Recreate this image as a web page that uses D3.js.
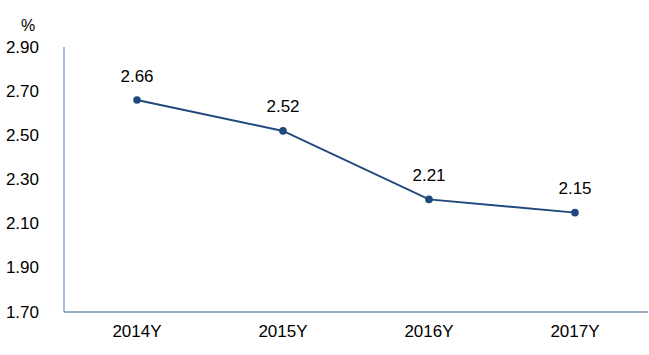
<!DOCTYPE html>
<html>
<head>
<meta charset="utf-8">
<script src="https://cdn.jsdelivr.net/npm/d3@7"></script>
<style>
  body { margin: 0; background: #fff; }
  svg { display: block; }
</style>
</head>
<body>
<div id="chart"></div>
<script>
// chart data
const categories = ["2014Y", "2015Y", "2016Y", "2017Y"];
const values = [2.66, 2.52, 2.21, 2.15];
const yTicks = [1.70, 1.90, 2.10, 2.30, 2.50, 2.70, 2.90];

const width = 649, height = 355;
const margin = { top: 47, right: 1, bottom: 43, left: 64 };
const font = "Liberation Sans, Arial, sans-serif";

const svg = d3.select("#chart").append("svg")
    .attr("width", width)
    .attr("height", height);

const x = d3.scaleBand()
    .domain(categories)
    .range([margin.left, width - margin.right]);

const y = d3.scaleLinear()
    .domain([1.70, 2.90])
    .range([height - margin.bottom, margin.top]);

// y axis line + labels
svg.append("line")
    .attr("x1", margin.left).attr("x2", margin.left)
    .attr("y1", y(2.90)).attr("y2", y(1.70))
    .style("stroke", "#4a7ebb")
    .style("stroke-width", 1);

svg.selectAll(".ytick")
    .data(yTicks)
    .enter().append("text")
    .attr("x", 39)
    .attr("y", d => y(d))
    .attr("text-anchor", "end")
    .attr("dominant-baseline", "central")
    .style("font-family", font)
    .style("font-size", "17px")
    .style("fill", "#000")
    .text(d => d.toFixed(2));

svg.append("text")
    .attr("x", 28)
    .attr("y", 25)
    .attr("text-anchor", "middle")
    .attr("dominant-baseline", "central")
    .style("font-family", font)
    .style("font-size", "16px")
    .text("%");

// x axis line + labels
svg.append("line")
    .attr("x1", margin.left).attr("x2", width - margin.right)
    .attr("y1", y(1.70)).attr("y2", y(1.70))
    .style("stroke", "#2f5a8f")
    .style("stroke-width", 1);

svg.selectAll(".xtick")
    .data(categories)
    .enter().append("text")
    .attr("x", d => x(d) + x.bandwidth() / 2)
    .attr("y", 331)
    .attr("text-anchor", "middle")
    .attr("dominant-baseline", "central")
    .style("font-family", font)
    .style("font-size", "17px")
    .text(d => d);

// series line
const pts = categories.map((c, i) => ({ c, v: values[i] }));
const line = d3.line()
    .x(d => x(d.c) + x.bandwidth() / 2)
    .y(d => y(d.v));

svg.append("path")
    .datum(pts)
    .attr("d", line)
    .style("fill", "none")
    .style("stroke", "#1f497d")
    .style("stroke-width", 2);

svg.selectAll(".dot")
    .data(pts)
    .enter().append("circle")
    .attr("cx", d => x(d.c) + x.bandwidth() / 2)
    .attr("cy", d => y(d.v))
    .attr("r", 3.8)
    .style("fill", "#1f497d");

svg.selectAll(".lbl")
    .data(pts)
    .enter().append("text")
    .attr("x", d => x(d.c) + x.bandwidth() / 2)
    .attr("y", d => y(d.v) - 24)
    .attr("text-anchor", "middle")
    .attr("dominant-baseline", "central")
    .style("font-family", font)
    .style("font-size", "17px")
    .text(d => d.v.toFixed(2));
</script>
</body>
</html>
